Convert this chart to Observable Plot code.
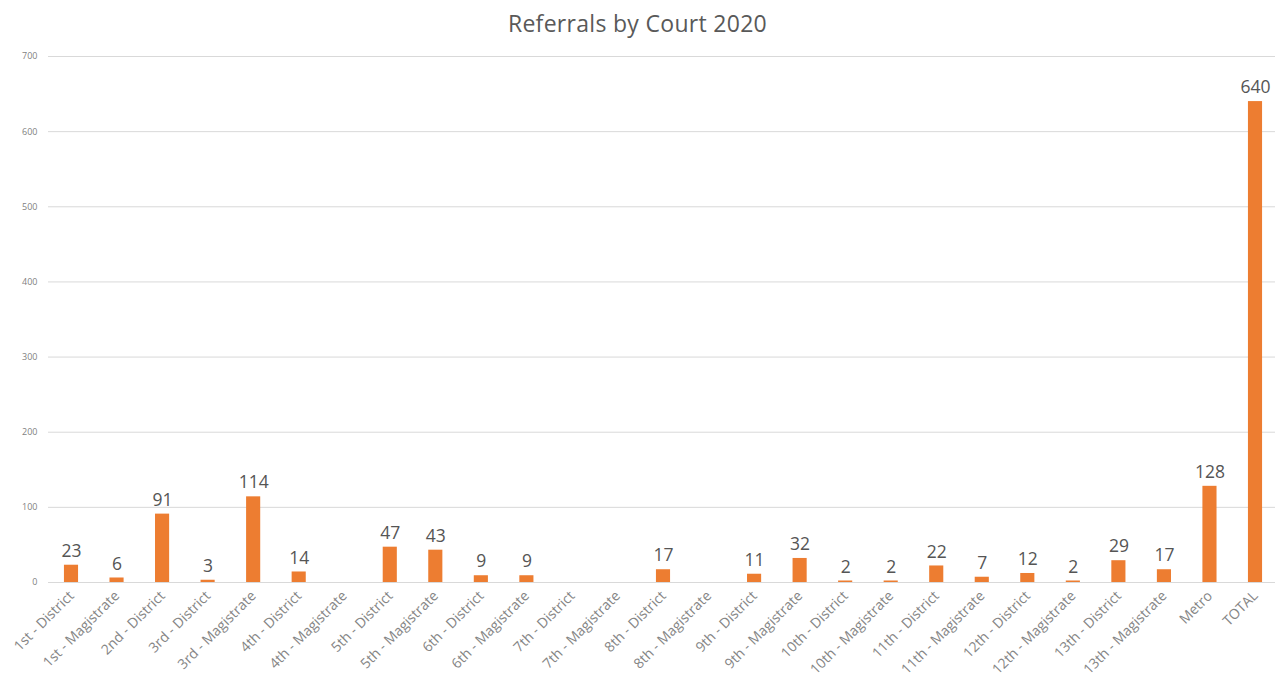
<!DOCTYPE html>
<html>
<head>
<meta charset="utf-8">
<script src="https://cdn.jsdelivr.net/npm/d3@7"></script>
<script src="https://cdn.jsdelivr.net/npm/@observablehq/plot@0.6"></script>
<style>
  body { margin: 0; background: #fff; }
  #title { height: 45px; line-height: 47px; text-align: center; font-family: "Open Sans", sans-serif; font-size: 23px; letter-spacing: 0.3px; color: #595959; }
</style>
</head>
<body>
<div id="title">Referrals by Court 2020</div>
<div id="chart"></div>
<script>
const courts = [
  "1st - District", "1st - Magistrate", "2nd - District", "3rd - District", "3rd - Magistrate",
  "4th - District", "4th - Magistrate", "5th - District", "5th - Magistrate", "6th - District",
  "6th - Magistrate", "7th - District", "7th - Magistrate", "8th - District", "8th - Magistrate",
  "9th - District", "9th - Magistrate", "10th - District", "10th - Magistrate", "11th - District",
  "11th - Magistrate", "12th - District", "12th - Magistrate", "13th - District", "13th - Magistrate",
  "Metro", "TOTAL"
];
const referrals = [23, 6, 91, 3, 114, 14, 0, 47, 43, 9, 9, 0, 0, 17, 0, 11, 32, 2, 2, 22, 7, 12, 2, 29, 17, 128, 640];
const yTicks = [0, 100, 200, 300, 400, 500, 600, 700];

const data = courts.map((c, i) => ({court: c, value: referrals[i]}));

const chart = Plot.plot({
  width: 1275,
  height: 639,
  marginTop: 11,
  marginBottom: 102,
  marginLeft: 48,
  marginRight: 0,
  style: {fontFamily: "'Open Sans', sans-serif", background: "#fff"},
  x: {domain: courts, range: [48, 1278], round: false, paddingInner: 0.69, paddingOuter: 0.35, label: null},
  y: {domain: [0, 700], label: null},
  marks: [
    Plot.gridY(yTicks, {stroke: "#d9d9d9", strokeOpacity: 1, strokeWidth: 1}),
    Plot.barY(data, {x: "court", y: "value", fill: "#ed7d31"}),
    Plot.text(data.filter(d => d.value > 0), {x: "court", y: "value", text: d => String(d.value), dy: -14, fontSize: 17.5, fill: "#555555"}),
    Plot.axisY(yTicks, {tickSize: 0, tickPadding: 11, fontSize: 9, color: "#7f7f7f", label: null}),
    Plot.axisX({tickSize: 0, tickRotate: -45, tickPadding: 11, fontSize: 14, color: "#858585", label: null})
  ]
});
document.getElementById("chart").appendChild(chart);
</script>
</body>
</html>
